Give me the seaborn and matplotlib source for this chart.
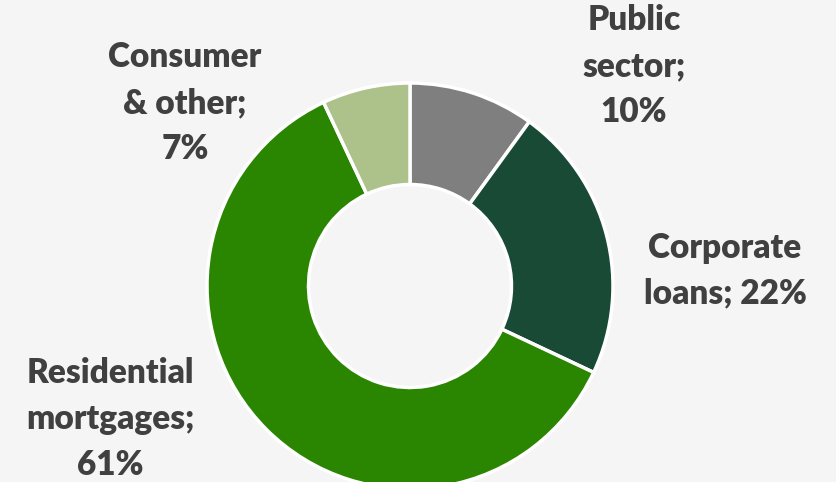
import matplotlib
matplotlib.use("Agg")
import matplotlib.pyplot as plt
import seaborn as sns

# Loan portfolio breakdown (share of total, %)
categories = ["Public sector", "Corporate loans", "Residential mortgages", "Consumer & other"]
shares = [10, 22, 61, 7]
colors = ["#7F7F7F", "#184A36", "#2A8500", "#ADC18A"]

sns.set_theme(style="white")
plt.rcParams["font.family"] = ["Lato", "DejaVu Sans"]

W, H = 836, 482
fig = plt.figure(figsize=(W / 100, H / 100), dpi=100, facecolor="#F5F5F5")
ax = fig.add_axes([0, 0, 1, 1])
ax.set_facecolor("#F5F5F5")

cx, cy, R = 410, H - 286, 203
ax.pie(shares, colors=sns.color_palette(colors), startangle=90, counterclock=False,
       center=(cx, cy), radius=R,
       wedgeprops=dict(width=R * 0.5, edgecolor="white", linewidth=2.5))

# Category labels placed around the ring
label_pos = [(634, 66), (725, 271), (110, 419), (185, 103)]
label_text = [
    "Public\nsector;\n{}%".format(shares[0]),
    "Corporate\nloans; {}%".format(shares[1]),
    "Residential\nmortgages;\n{}%".format(shares[2]),
    "Consumer\n& other;\n{}%".format(shares[3]),
]
for (x, y), t in zip(label_pos, label_text):
    ax.text(x, H - y, t, ha="center", va="center", fontsize=24, fontweight="heavy",
            color="#404040", linespacing=1.52)

ax.set_xlim(0, W)
ax.set_ylim(0, H)
ax.set_aspect("equal")
ax.axis("off")
fig.savefig("out.png", dpi=100, facecolor=fig.get_facecolor())
